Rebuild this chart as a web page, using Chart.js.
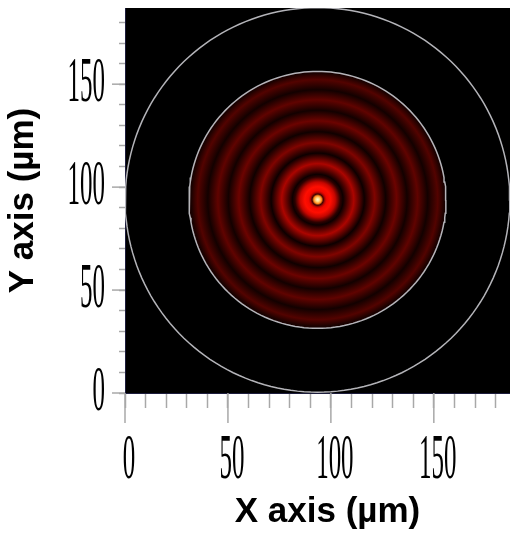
<!DOCTYPE html>
<html>
<head>
<meta charset="utf-8">
<script src="https://cdn.jsdelivr.net/npm/chart.js@4.4.1/dist/chart.umd.min.js"></script>
<style>
  html, body { margin: 0; padding: 0; background: #fff; }
  #wrap { width: 510px; height: 535px; }
</style>
</head>
<body>
<div id="wrap"><canvas id="myChart"></canvas></div>
<script>
// axis range in µm
const axisMin = 0;
const axisMax = 187;
const tickStep = 10;
const majorTicks = [0, 50, 100, 150];
const tickLabels = ['0', '50', '100', '150'];

// the two gray circles (µm)
const circleCenter = [93.5, 93.8];
const circleRadii = [93.4, 62.4];

// ring pattern: radial profile (radius in µm, relative intensity)
const patternCenter = [93.6, 93.9];
const profileRadius = [0, 0.9, 1.9, 2.7, 3.6, 4.4, 6.3, 8.5, 11.0, 12.3, 17.5, 22.6, 27.7, 33.0, 38.3, 43.4, 48.5, 53.4, 58.3, 61.5, 62.4];
const profileIntensity = [1.0, 0.86, 0.62, 0.1, 0.3, 0.38, 0.41, 0.31, 0.07, 0.02, 0.27, 0.02, 0.2, 0.025, 0.17, 0.03, 0.15, 0.03, 0.13, 0.04, 0.04];

// black -> red -> yellow -> white
const heatStops = [[0, [0, 0, 0]], [0.4, [255, 8, 0]], [0.7, [255, 185, 40]], [1, [255, 250, 215]]];

function heat(v) {
  for (let i = 1; i < heatStops.length; i++) {
    const [v1, c1] = heatStops[i];
    const [v0, c0] = heatStops[i - 1];
    if (v <= v1) {
      const f = (v - v0) / (v1 - v0);
      const c = c0.map((a, k) => Math.round(a + (c1[k] - a) * f));
      return 'rgb(' + c.join(',') + ')';
    }
  }
  return 'rgb(255,250,215)';
}

function circlePoints(c, r) {
  const pts = [];
  for (let a = 0; a <= 360; a += 2) {
    const t = a * Math.PI / 180;
    pts.push({ x: c[0] + r * Math.cos(t), y: c[1] + r * Math.sin(t) });
  }
  return pts;
}

function patternFill(context) {
  const chart = context.chart;
  const xs = chart.scales.x, ys = chart.scales.y;
  if (!chart.chartArea || !xs || !ys) return 'rgba(0,0,0,0)';
  const cx = xs.getPixelForValue(patternCenter[0]);
  const cy = ys.getPixelForValue(patternCenter[1]);
  const outer = profileRadius[profileRadius.length - 1];
  const R = xs.getPixelForValue(patternCenter[0] + outer) - cx;
  const g = chart.ctx.createRadialGradient(cx, cy, 0, cx, cy, R);
  profileRadius.forEach((r, i) => g.addColorStop(r / outer, heat(profileIntensity[i])));
  return g;
}

// black plot area
const plotBackground = {
  id: 'plotBackground',
  beforeDraw(chart) {
    const { ctx, chartArea: a } = chart;
    ctx.save();
    ctx.fillStyle = '#000';
    ctx.fillRect(a.left, a.top, a.right - a.left, a.bottom - a.top);
    ctx.restore();
  }
};

// long major ticks and narrow serif labels
const majorTickLabels = {
  id: 'majorTickLabels',
  afterDraw(chart) {
    const ctx = chart.ctx;
    const xs = chart.scales.x, ys = chart.scales.y;
    ctx.save();
    ctx.strokeStyle = '#a8a8a8';
    ctx.lineWidth = 1.5;
    ctx.fillStyle = '#000';
    ctx.font = '64px "Liberation Serif", serif';
    majorTicks.forEach((v, i) => {
      const px = xs.getPixelForValue(v);
      ctx.beginPath();
      ctx.moveTo(px, xs.top);
      ctx.lineTo(px, xs.top + 30);
      ctx.stroke();
      ctx.save();
      ctx.translate(px + 4, 478);
      ctx.scale(0.39, 1);
      ctx.textAlign = 'center';
      ctx.fillText(tickLabels[i], 0, 0);
      ctx.restore();

      const py = ys.getPixelForValue(v);
      ctx.beginPath();
      ctx.moveTo(ys.right - 13, py);
      ctx.lineTo(ys.right, py);
      ctx.stroke();
      ctx.save();
      ctx.translate(105, py + 17);
      ctx.scale(0.39, 1);
      ctx.textAlign = 'right';
      ctx.fillText(tickLabels[i], 0, 0);
      ctx.restore();
    });
    // x axis title, a little right of the plot centre as in the original
    ctx.font = 'bold 35px "Liberation Sans", Arial, sans-serif';
    ctx.textAlign = 'center';
    ctx.textBaseline = 'alphabetic';
    ctx.fillText(xTitle, (xs.left + xs.right) / 2 + 10, 522);
    ctx.restore();
  }
};

const xTitle = 'X axis (µm)';
const yTitle = 'Y axis (µm)';
const titleFont = { family: '"Liberation Sans", Arial, sans-serif', size: 35, weight: 'bold' };

const ctx = document.getElementById('myChart').getContext('2d');
const chart = new Chart(ctx, {
  type: 'line',
  data: {
    datasets: [{
      label: 'Pattern',
      data: circlePoints(circleCenter, circleRadii[1]),
      borderColor: 'rgba(200,200,205,0.9)',
      borderWidth: 1.5,
      backgroundColor: patternFill,
      fill: 'shape',
      pointRadius: 0,
      tension: 0
    }, {
      label: 'Aperture',
      data: circlePoints(circleCenter, circleRadii[0]),
      borderColor: 'rgba(200,200,205,0.9)',
      borderWidth: 1.5,
      fill: false,
      pointRadius: 0,
      tension: 0
    }]
  },
  options: {
    responsive: true,
    maintainAspectRatio: false,
    animation: false,
    layout: { padding: { top: 8, right: 0, left: 0, bottom: 0 } },
    plugins: { legend: { display: false }, tooltip: { enabled: false } },
    scales: {
      x: {
        type: 'linear',
        min: axisMin,
        max: axisMax,
        border: { display: true, color: '#1c1c3c' },
        grid: { drawOnChartArea: false, tickLength: 15, color: '#a8a8a8', tickWidth: 1.5 },
        ticks: { stepSize: tickStep, includeBounds: false, display: false },
        afterFit(s) { s.height = 142; }
      },
      y: {
        type: 'linear',
        min: axisMin,
        max: axisMax,
        border: { display: true, color: '#1c1c3c' },
        grid: { drawOnChartArea: false, tickLength: 6, color: '#a8a8a8', tickWidth: 1.5 },
        ticks: { stepSize: tickStep, includeBounds: false, display: false },
        title: { display: true, text: yTitle, color: '#000', font: titleFont, padding: { top: 2, bottom: 0 } },
        afterFit(s) { s.width = 125; }
      }
    }
  },
  plugins: [plotBackground, majorTickLabels]
});
</script>
</body>
</html>
